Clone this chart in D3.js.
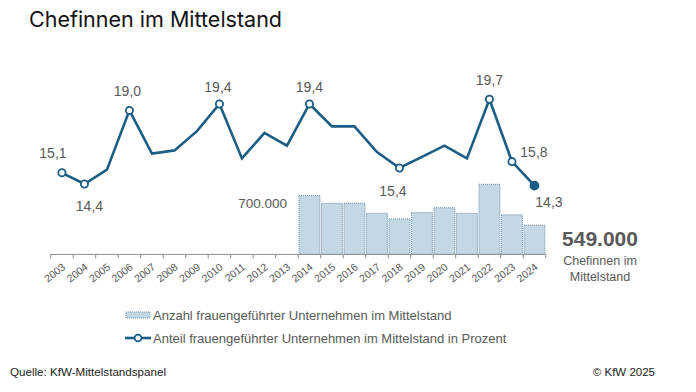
<!DOCTYPE html>
<html><head><meta charset="utf-8">
<script src="https://cdn.jsdelivr.net/npm/d3@7"></script>
<style>
body{margin:0;background:#fff;}
svg{display:block;}
</style></head>
<body>
<svg id="c" width="696" height="392"></svg>
<script>
const years = ["2003","2004","2005","2006","2007","2008","2009","2010","2011","2012","2013","2014","2015","2016","2017","2018","2019","2020","2021","2022","2023","2024"];
const shareValues = [15.1,14.4,15.3,19.0,16.3,16.5,17.7,19.4,16.0,17.6,16.8,19.4,18.0,18.0,16.4,15.4,16.1,16.8,16.0,19.7,15.8,14.3];
const countYears = ["2014","2015","2016","2017","2018","2019","2020","2021","2022","2023","2024"];
const countValues = [700000,661000,661000,610000,581000,613000,638000,610000,758000,602000,549000];
const markedYears = ["2003","2004","2006","2010","2014","2018","2022","2023","2024"];
const shareLabels = {"2003":"15,1","2004":"14,4","2006":"19,0","2010":"19,4","2014":"19,4","2018":"15,4","2022":"19,7","2023":"15,8","2024":"14,3"};
const countLabel = "700.000";
const legendLabels = ["Anzahl frauengeführter Unternehmen im Mittelstand","Anteil frauengeführter Unternehmen im Mittelstand in Prozent"];

const svg = d3.select("#c");
const lineColor = "#1b5d84";
const grey = "#595959";
const baseY = 254.4;
const x0 = 50.7, x1 = 545.7;

const x = d3.scaleBand().domain(years).range([x0, x1]).paddingInner(0.07).paddingOuter(0.035);
const xc = d => x(d) + x.bandwidth()/2;
const yL = d3.scaleLinear().domain([10, 22]).range([baseY, 62.4]);
const yB = d3.scaleLinear().domain([400000, 1300000]).range([baseY, baseY - 176.4]);

// title
svg.append("text").attr("x", 29).attr("y", 27).attr("font-family", "Inter, 'Noto Sans', sans-serif")
  .attr("font-size", 21.5).attr("fill", "#111").text("Chefinnen im Mittelstand");

// bars
svg.append("g").selectAll("rect").data(countYears).join("rect")
  .attr("x", d => x(d)).attr("width", x.bandwidth())
  .attr("y", (d,i) => yB(countValues[i])).attr("height", (d,i) => baseY - yB(countValues[i]))
  .attr("fill", "#c3d7e4").attr("stroke", "#6d8ea6").attr("stroke-width", 1).attr("stroke-dasharray", "1,1");

// x axis
const axisG = svg.append("g");
axisG.append("line").attr("x1", x0).attr("x2", x1).attr("y1", baseY).attr("y2", baseY)
  .attr("stroke", "#8c8c8c").attr("stroke-width", 1);
const bounds = d3.range(years.length + 1).map(i => x0 + i * ((x1 - x0) / years.length));
axisG.selectAll("line.t").data(bounds).join("line").attr("class","t")
  .attr("x1", d => d).attr("x2", d => d).attr("y1", baseY).attr("y2", baseY + 4)
  .attr("stroke", "#8c8c8c");
axisG.selectAll("text.tl").data(years).join("text").attr("class","tl")
  .attr("transform", d => "translate(" + (xc(d) + 2) + "," + (baseY + 11) + ") rotate(-38)")
  .attr("text-anchor", "end").attr("dy", "0.35em")
  .attr("font-family", "'Liberation Sans', Arial, sans-serif").attr("font-size", 10.5).attr("fill", grey)
  .text(d => d);

// line
const line = d3.line().x((d,i) => xc(years[i])).y(d => yL(d));
svg.append("path").datum(shareValues).attr("d", line).attr("fill", "none")
  .attr("stroke", lineColor).attr("stroke-width", 2.6).attr("stroke-linejoin", "miter");
svg.append("g").selectAll("circle").data(markedYears).join("circle")
  .attr("cx", d => xc(d)).attr("cy", d => yL(shareValues[years.indexOf(d)])).attr("r", d => d === "2024" ? 4 : 3.6)
  .attr("fill", d => d === "2024" ? lineColor : "#fff").attr("stroke", lineColor).attr("stroke-width", 1.8);

// value labels
const labelPos = {"2003":[-9,-14.7],"2004":[5,27],"2006":[-2,-14.5],"2010":[-1.5,-12],"2014":[0,-12],"2018":[-6.5,28],"2022":[0,-14.7],"2023":[22,-4.6],"2024":[14.5,21]};
svg.append("g").selectAll("text").data(markedYears).join("text")
  .attr("x", d => xc(d) + labelPos[d][0]).attr("y", d => yL(shareValues[years.indexOf(d)]) + labelPos[d][1])
  .attr("text-anchor", "middle")
  .attr("font-family", "'Liberation Sans', Arial, sans-serif").attr("font-size", 14).attr("fill", grey)
  .text(d => shareLabels[d]);
svg.append("text").attr("x", x("2014") - 12).attr("y", yB(countValues[0]) + 12.5).attr("text-anchor", "end")
  .attr("font-family", "'Liberation Sans', Arial, sans-serif").attr("font-size", 13.5).attr("fill", grey).text(countLabel);

// big annotation
svg.append("text").attr("x", 600).attr("y", 246).attr("text-anchor", "middle")
  .attr("font-family", "'Liberation Sans', Arial, sans-serif").attr("font-weight", "bold").attr("font-size", 21).attr("fill", grey)
  .text(d3.format(",")(countValues[countValues.length-1]).replace(/,/g, "."));
svg.append("text").attr("x", 600).attr("y", 265).attr("text-anchor", "middle")
  .attr("font-family", "'Liberation Sans', Arial, sans-serif").attr("font-size", 12.5).attr("fill", grey).text("Chefinnen im");
svg.append("text").attr("x", 600).attr("y", 281).attr("text-anchor", "middle")
  .attr("font-family", "'Liberation Sans', Arial, sans-serif").attr("font-size", 12.5).attr("fill", grey).text("Mittelstand");

// legend
const lg = svg.append("g");
lg.append("rect").attr("x", 126).attr("y", 312).attr("width", 24).attr("height", 6)
  .attr("fill", "#c3d7e4").attr("stroke", "#6d8ea6").attr("stroke-dasharray", "1,1");
lg.append("line").attr("x1", 125).attr("x2", 151).attr("y1", 338).attr("y2", 338).attr("stroke", lineColor).attr("stroke-width", 2.6);
lg.append("circle").attr("cx", 138).attr("cy", 338).attr("r", 3.4).attr("fill", "#fff").attr("stroke", lineColor).attr("stroke-width", 1.8);
lg.selectAll("text").data(legendLabels).join("text")
  .attr("x", 153).attr("y", (d,i) => 320 + i*23)
  .attr("font-family", "'Liberation Sans', Arial, sans-serif").attr("font-size", 13).attr("fill", grey).text(d => d);

// footer
svg.append("text").attr("x", 10).attr("y", 376)
  .attr("font-family", "'Liberation Sans', sans-serif").attr("font-size", 11.5).attr("fill", "#222")
  .attr("textLength", 156).attr("lengthAdjust", "spacingAndGlyphs")
  .text("Quelle: KfW-Mittelstandspanel");
svg.append("text").attr("x", 655).attr("y", 376).attr("text-anchor", "end")
  .attr("font-family", "'Liberation Sans', sans-serif").attr("font-size", 11.5).attr("fill", "#222")
  .text("© KfW 2025");
</script>
</body></html>
